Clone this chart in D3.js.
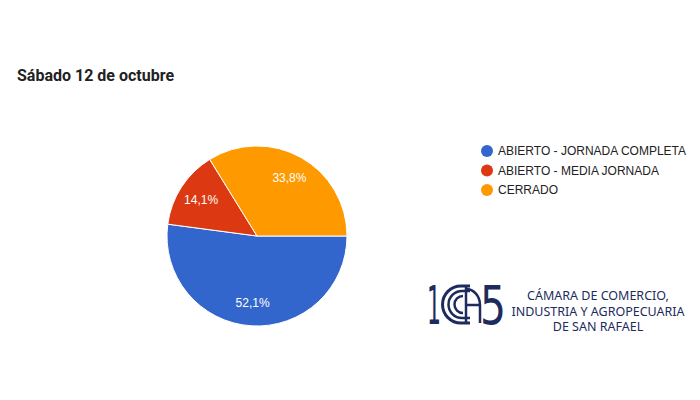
<!DOCTYPE html>
<html><head><meta charset="utf-8">
<script src="https://cdn.jsdelivr.net/npm/d3@7"></script>
<style>body{margin:0;background:#fff}svg{display:block}</style>
</head><body>
<script>
const categories = ["ABIERTO - JORNADA COMPLETA", "ABIERTO - MEDIA JORNADA", "CERRADO"];
const values = [52.1, 14.1, 33.8];
const labels = ["52,1%", "14,1%", "33,8%"];
const colors = ["#3366cc", "#dc3912", "#ff9900"];
const title = "Sábado 12 de octubre";
const logoLines = ["CÁMARA DE COMERCIO,", "INDUSTRIA Y AGROPECUARIA", "DE SAN RAFAEL"];

const W = 700, H = 400;
const svg = d3.select("body").append("svg").attr("width", W).attr("height", H);
svg.append("rect").attr("width", W).attr("height", H).attr("fill", "#fff");

svg.append("text").attr("x", 17).attr("y", 81)
  .attr("font-family", "Roboto, Arial, sans-serif").attr("font-weight", "bold")
  .attr("font-size", 16).attr("fill", "#222").text(title);

const cx = 257, cy = 236, r = 90;
const pie = d3.pie().sort(null).value(d => d)
  .startAngle(Math.PI / 2).endAngle(Math.PI / 2 + 2 * Math.PI);
const arcs = pie(values);
const arc = d3.arc().innerRadius(0).outerRadius(r);
const labelArc = d3.arc().innerRadius(r * 0.74).outerRadius(r * 0.74);
const g = svg.append("g").attr("transform", `translate(${cx},${cy})`);
g.selectAll("path").data(arcs).join("path")
  .attr("d", arc).attr("fill", (d, i) => colors[i])
  .attr("stroke", "#fff").attr("stroke-width", 1);
g.selectAll("text").data(arcs).join("text")
  .attr("transform", d => `translate(${labelArc.centroid(d)})`)
  .attr("text-anchor", "middle").attr("dy", "0.35em")
  .attr("font-family", "Arial, 'Liberation Sans', sans-serif").attr("font-size", 12)
  .attr("fill", "#fff").text((d, i) => labels[i]);

const legend = svg.append("g");
const ly = d3.scalePoint().domain(categories).range([151, 190]);
categories.forEach((c, i) => {
  legend.append("circle").attr("cx", 487).attr("cy", ly(c)).attr("r", 6).attr("fill", colors[i]);
  legend.append("text").attr("x", 498).attr("y", ly(c)).attr("dy", "0.35em")
    .attr("font-family", "Arial, 'Liberation Sans', sans-serif").attr("font-size", 12)
    .attr("fill", "#222").text(c);
});

// Logo
const navy = "#1d2b5e";
const logo = svg.append("g").attr("fill", navy).attr("stroke", navy);
logo.append("text").attr("x", 427).attr("y", 324).attr("stroke", "none")
  .attr("font-family", "'DejaVu Sans', sans-serif").attr("font-weight", "normal")
  .attr("font-size", 54).attr("textLength", 14).attr("lengthAdjust", "spacingAndGlyphs").text("1");
logo.append("text").attr("x", 480).attr("y", 324).attr("stroke", "none")
  .attr("font-family", "'DejaVu Sans', sans-serif")
  .attr("font-size", 54).attr("textLength", 26).attr("lengthAdjust", "spacingAndGlyphs").text("5");
const lg = logo.append("g").attr("fill", "none").attr("stroke-width", 3);
// outer C
lg.append("path").attr("d", "M470,286 L461,286 A18.5,18.5 0 0 0 461,323 L470,323");
lg.append("path").attr("d", "M470,291 L462,291 A13.5,13.5 0 0 0 462,318 L470,318").attr("stroke-width", 2.5);
lg.append("path").attr("d", "M463,296 A8.5,8.5 0 0 0 463,313").attr("stroke-width", 2.5);
lg.append("path").attr("d", "M466,286 L466,323").attr("stroke-width", 2.5);
lg.append("path").attr("d", "M466,305 L480,305").attr("stroke-width", 2.5);
lg.append("path").attr("d", "M466,289 A14,16 0 0 1 480,305 L480,323").attr("stroke-width", 2.5);

const lt = svg.append("g");
logoLines.forEach((t, i) => {
  lt.append("text").attr("x", 598).attr("y", 300 + i * 15.5).attr("text-anchor", "middle")
    .attr("font-family", "'Noto Sans', 'Open Sans', sans-serif").attr("font-size", 12.5)
    .attr("fill", navy).text(t);
});
</script>
</body></html>
